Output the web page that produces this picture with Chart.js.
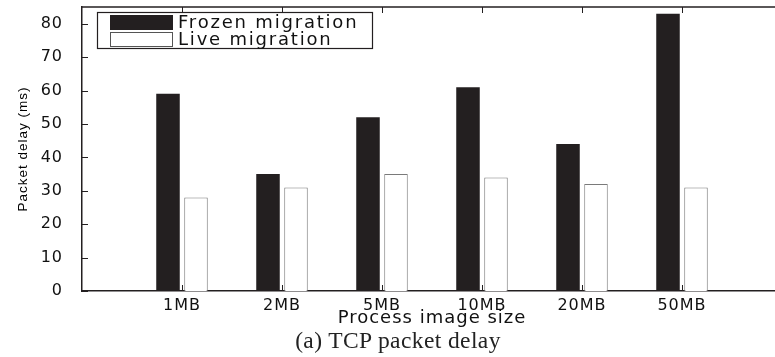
<!DOCTYPE html>
<html>
<head>
<meta charset="utf-8">
<script src="https://cdn.jsdelivr.net/npm/chart.js@4"></script>
<style>
  html, body { margin: 0; padding: 0; background: #fff; overflow: hidden; }
  #wrap { position: relative; width: 800px; height: 357px; }
  #caption {
    position: absolute; left: 248px; width: 300px; top: 327px;
    text-align: center; font: 23.5px "Liberation Serif", "DejaVu Serif", serif; color: #222;
    letter-spacing: 0.4px; white-space: nowrap;
  }
</style>
</head>
<body>
<div id="wrap">
  <canvas id="chart" width="800" height="357"></canvas>
  <div id="caption">(a) TCP packet delay</div>
</div>
<script>
// TCP packet delay per process image size

const categories = ['1MB', '2MB', '5MB', '10MB', '20MB', '50MB'];
const frozenDelay = [59, 35, 52, 61, 44, 83];
const liveDelay = [28, 31, 35, 34, 32, 31];
const yTicks = [0, 10, 20, 30, 40, 50, 60, 70, 80];

const ink = '#231f20';
const sans = '"DejaVu Sans", sans-serif';

// the x axis text is drawn wide in the original, so space its letters a bit.
// y axis has z:1 so it's drawn after the datasets, with normal spacing
const wideText = {
  id: 'wideText',
  beforeDraw(chart) { chart.ctx.letterSpacing = '1px'; },
  afterDatasetsDraw(chart) { chart.ctx.letterSpacing = '0px'; }
};

// frame on top + inward tick marks, like the original axes box
const axesBox = {
  id: 'axesBox',
  afterDraw(chart) {
    const { ctx, chartArea: a, scales } = chart;
    ctx.save();
    ctx.strokeStyle = ink;
    ctx.lineWidth = 1.5;
    ctx.beginPath();
    ctx.moveTo(a.left, a.top);
    ctx.lineTo(a.right, a.top);
    ctx.stroke();
    ctx.lineWidth = 1;
    ctx.beginPath();
    yTicks.forEach(v => {
      const y = Math.round(scales.y.getPixelForValue(v)) + 0.5;
      ctx.moveTo(a.left, y);
      ctx.lineTo(a.left + 6, y);
    });
    categories.forEach((c, i) => {
      const x = Math.round(scales.x.getPixelForValue(i + 1)) + 0.5;
      ctx.moveTo(x, a.top);
      ctx.lineTo(x, a.top + 6);
      ctx.moveTo(x, a.bottom);
      ctx.lineTo(x, a.bottom - 6);
    });
    ctx.stroke();
    ctx.restore();
  }
};

// boxed legend in the upper left of the plot
const boxLegend = {
  id: 'boxLegend',
  afterDraw(chart) {
    const { ctx, chartArea: a } = chart;
    const x0 = a.left + 15, y0 = a.top + 5;
    ctx.save();
    ctx.fillStyle = '#fff';
    ctx.fillRect(x0, y0, 275, 36);
    ctx.strokeStyle = ink;
    ctx.lineWidth = 1.2;
    ctx.strokeRect(x0 + 0.5, y0 + 0.5, 275, 36);
    chart.data.datasets.forEach((ds, i) => {
      const ry = y0 + 3 + i * 17;
      ctx.fillStyle = ds.backgroundColor;
      ctx.fillRect(x0 + 13, ry, 62, 14);
      ctx.strokeStyle = i === 0 ? ink : '#555';
      ctx.lineWidth = 1;
      ctx.strokeRect(x0 + 13.5, ry + 0.5, 62, 14);
      ctx.fillStyle = '#111';
      ctx.font = '18px ' + sans;
      ctx.letterSpacing = '1.8px';
      ctx.textBaseline = 'middle';
      ctx.fillText(ds.label, x0 + 81, ry + 8);
    });
    ctx.restore();
  }
};

new Chart(document.getElementById('chart'), {
  type: 'bar',
  data: {
    datasets: [
      {
        label: 'Frozen migration',
        data: frozenDelay.map((v, i) => ({ x: i + 1, y: v })),
        backgroundColor: ink,
        borderColor: ink,
        borderWidth: 0
      },
      {
        label: 'Live migration',
        data: liveDelay.map((v, i) => ({ x: i + 1, y: v })),
        backgroundColor: '#ffffff',
        borderColor: '#7a7a7a',
        borderWidth: { top: 1, left: 1, right: 1, bottom: 0 },
        borderSkipped: 'bottom'
      }
    ]
  },
  options: {
    responsive: false,
    animation: false,
    layout: { padding: { top: 7, right: 18, bottom: 0, left: 0 } },
    categoryPercentage: 0.56,
    barPercentage: 0.84,
    plugins: { legend: { display: false }, tooltip: { enabled: false } },
    scales: {
      x: {
        type: 'linear',
        min: 0,
        max: 7,
        offset: false,
        grid: { display: false },
        border: { display: true, color: ink, width: 1.5 },
        ticks: {
          stepSize: 1,
          padding: -3,
          color: '#111',
          font: { family: sans, size: 16 },
          callback: v => categories[v - 1] || ''
        },
        title: {
          display: true,
          text: 'Process image size',
          color: '#111',
          font: { family: sans, size: 18 },
          padding: { top: 0, bottom: 28 }
        },
        afterFit: s => { s.height = 66; s.paddingLeft = 0; s.paddingRight = 0; }
      },
      y: {
        z: 1,
        min: 0,
        max: 85,
        grid: { display: false },
        border: { display: true, color: ink, width: 1.5 },
        ticks: {
          stepSize: 10,
          includeBounds: false,
          padding: 11,
          color: '#111',
          font: { family: sans, size: 16 }
        },
        title: {
          display: true,
          text: 'Packet delay (ms)',
          color: '#000',
          font: { family: '"Liberation Sans Narrow", "Liberation Sans", sans-serif', size: 13.5 },
          padding: { top: 15, bottom: 0 }
        },
        afterFit: s => { s.width = 82; s.paddingTop = 0; s.paddingBottom = 0; }
      }
    }
  },
  plugins: [wideText, axesBox, boxLegend]
});
</script>
</body>
</html>
